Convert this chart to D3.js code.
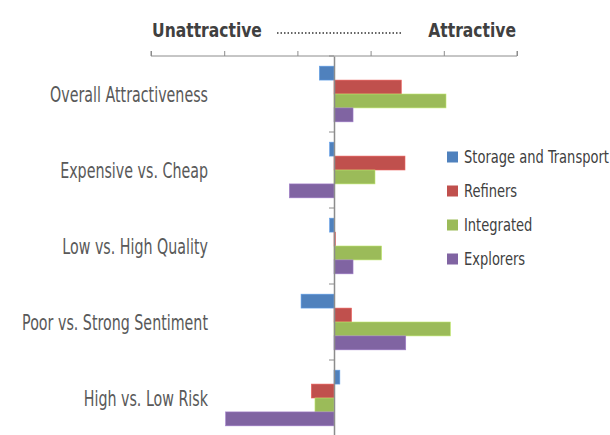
<!DOCTYPE html>
<html>
<head>
<meta charset="utf-8">
<script src="https://cdn.jsdelivr.net/npm/d3@7"></script>
<style>
  body { margin: 0; background: #fff; }
  svg text { font-family: "DejaVu Sans Condensed", "DejaVu Sans", sans-serif; }
</style>
</head>
<body>
<div id="chart"></div>
<script>
var categories = ["Overall Attractiveness", "Expensive vs. Cheap", "Low vs. High Quality", "Poor vs. Strong Sentiment", "High vs. Low Risk"];
var seriesNames = ["Storage and Transport", "Refiners", "Integrated", "Explorers"];
var storage = [-0.20, -0.06, -0.06, -0.45, 0.08];
var refiners = [0.92, 0.97, 0.02, 0.24, -0.31];
var integrated = [1.53, 0.56, 0.65, 1.59, -0.26];
var explorers = [0.26, -0.61, 0.26, 0.98, -1.48];
var tickValues = [-2.5, -1.5, -0.5, 0.5, 1.5, 2.5];
var colors = ["#4F81BD", "#C0504D", "#9BBB59", "#8064A2"];

var seriesValues = [storage, refiners, integrated, explorers];
var axisColor = "#8c8c8c";

var svg = d3.select('#chart').append('svg').attr('width', 610).attr('height', 435);

// squeeze text horizontally so a sample string gets the wanted width (condensed look)
function squeeze(size, weight, sample, wanted){
  var t = svg.append('text').attr('font-size', size).attr('font-weight', weight).text(sample);
  var w = t.node().getComputedTextLength();
  t.remove();
  return wanted / w;
}
var catK = squeeze(21, 'normal', categories[0], 158);
var legK = squeeze(18, 'normal', seriesNames[0], 145);
var headK = squeeze(20, 'bold', 'Unattractive', 110);

var x = d3.scaleLinear().domain([-2.5, 2.5]).range([151, 517]);
var y = d3.scaleBand().domain(categories).range([56, 436]);
var ySub = d3.scaleBand().domain(seriesNames).range([0, y.bandwidth()]).paddingOuter(0.73);

// top value axis, no labels, ticks pointing up
var xAxis = svg.append('g').attr('transform', 'translate(0,56)')
  .call(d3.axisTop(x).tickValues(tickValues).tickSize(5).tickFormat(''));
xAxis.select('.domain').attr('stroke', axisColor).attr('d', 'M' + x(-2.5) + ',-5V0H' + x(2.5) + 'V-5');
xAxis.selectAll('.tick line').attr('stroke', axisColor);

// bars
var rows = [];
categories.forEach(function(c, i){
  seriesNames.forEach(function(s, j){
    rows.push({cat: c, series: s, value: seriesValues[j][i], color: colors[j]});
  });
});
svg.selectAll('rect.bar').data(rows).enter().append('rect')
  .attr('class', 'bar')
  .attr('x', function(d){ return x(Math.min(0, d.value)); })
  .attr('y', function(d){ return y(d.cat) + ySub(d.series); })
  .attr('width', function(d){ return Math.abs(x(d.value) - x(0)); })
  .attr('height', ySub.bandwidth())
  .attr('fill', function(d){ return d.color; })
  .attr('stroke', function(d){ return d3.color(d.color).brighter(0.6); })
  .attr('stroke-width', 0.6);

// vertical category axis at zero
var yAxis = svg.append('g').attr('transform', 'translate(' + x(0) + ',0)')
  .call(d3.axisLeft(y).tickValues([]).tickSizeOuter(0));
yAxis.select('.domain').attr('stroke', axisColor).attr('stroke-width', 1.5);
var bounds = categories.map(function(c){ return y(c); }).concat([y.range()[1]]);
yAxis.selectAll('line.bound').data(bounds).enter().append('line')
  .attr('class', 'bound')
  .attr('x1', -5).attr('x2', 0)
  .attr('y1', function(d){ return d; }).attr('y2', function(d){ return d; })
  .attr('stroke', axisColor);

// category labels
svg.selectAll('text.cat').data(categories).enter().append('text')
  .attr('class', 'cat')
  .attr('transform', function(d){ return 'translate(208,' + (y(d) + y.bandwidth() / 2) + ') scale(' + catK + ',1)'; })
  .attr('dy', '0.36em')
  .attr('text-anchor', 'end')
  .attr('font-size', 21)
  .attr('fill', '#595959')
  .text(function(d){ return d; });

// header
svg.append('text').attr('transform', 'translate(152,37) scale(' + headK + ',1)')
  .attr('font-size', 20).attr('font-weight', 'bold')
  .attr('fill', '#404040').text('Unattractive');
svg.append('text').attr('transform', 'translate(516,37) scale(' + headK + ',1)')
  .attr('font-size', 20).attr('font-weight', 'bold')
  .attr('text-anchor', 'end').attr('fill', '#404040').text('Attractive');
svg.append('line').attr('x1', 277).attr('x2', 402).attr('y1', 33).attr('y2', 33)
  .attr('stroke', '#333').attr('stroke-width', 1.5).attr('stroke-dasharray', '1.5,2');

// legend
var legend = svg.selectAll('g.legend').data(seriesNames).enter().append('g')
  .attr('class', 'legend')
  .attr('transform', function(d, i){ return 'translate(447,' + (157 + i * 34) + ')'; });
legend.append('rect').attr('x', 0).attr('y', -5.5).attr('width', 11).attr('height', 11)
  .attr('fill', function(d, i){ return colors[i]; });
legend.append('text').attr('transform', 'translate(17,0) scale(' + legK + ',1)')
  .attr('dy', '0.36em')
  .attr('font-size', 18).attr('fill', '#404040')
  .text(function(d){ return d; });
</script>
</body>
</html>
